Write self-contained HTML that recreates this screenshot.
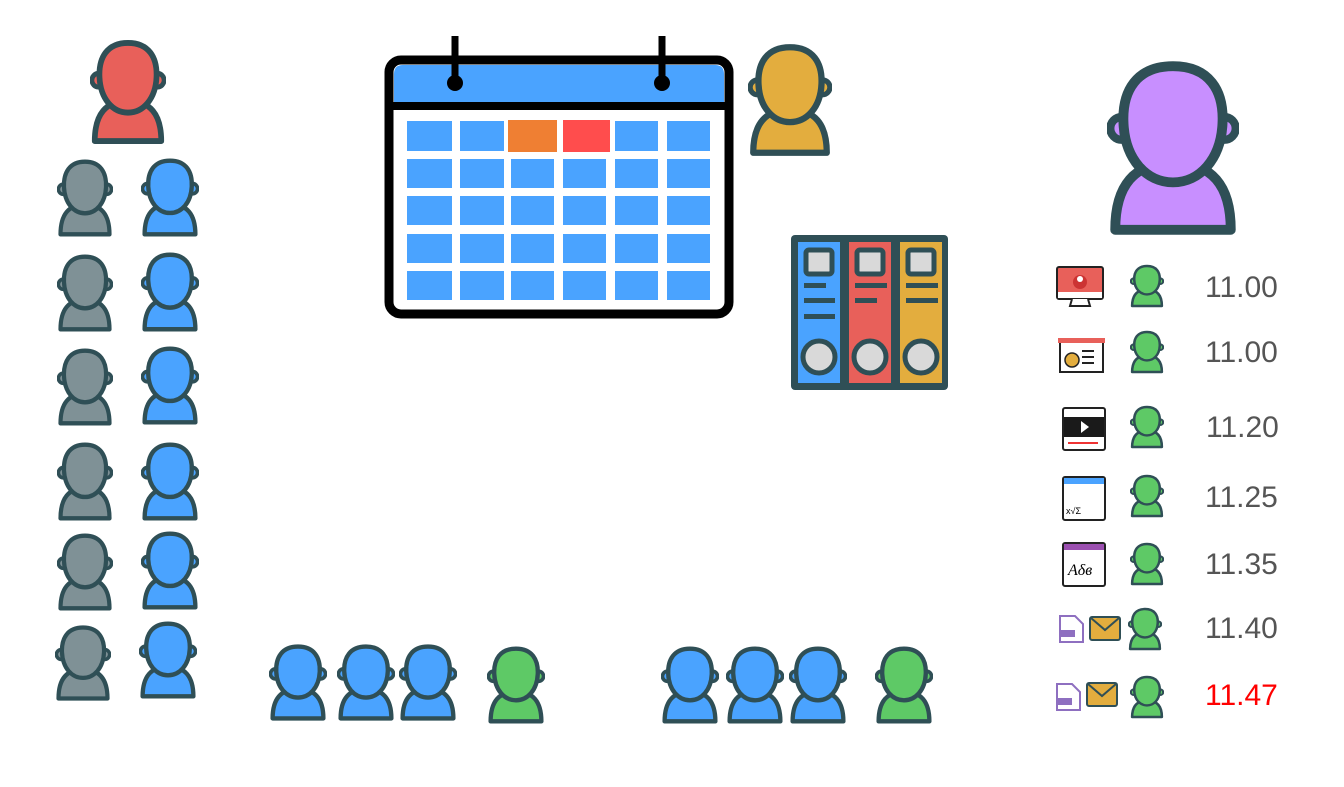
<!DOCTYPE html>
<html><head><meta charset="utf-8"><style>
html,body{margin:0;padding:0;background:#fff;width:1344px;height:787px;overflow:hidden}
.t{position:absolute;font-family:"Liberation Sans",sans-serif;font-size:30px;color:#555;left:1205px}
</style></head><body>
<svg width="1344" height="787" style="position:absolute;left:0;top:0">
<defs>
<symbol id="p" viewBox="0 0 80 110" preserveAspectRatio="none">
<path d="M5 105 Q5 64 40 64 Q75 64 75 105 Z" stroke="#2f4f56" stroke-width="6" stroke-linejoin="round"/>
<circle cx="9" cy="43" r="7" stroke="#2f4f56" stroke-width="5"/>
<circle cx="71" cy="43" r="7" stroke="#2f4f56" stroke-width="5"/>
<path d="M40 5 C62 5 71 20 70 40 C69 62 56 76 40 76 C24 76 11 62 10 40 C9 20 18 5 40 5 Z" stroke="#2f4f56" stroke-width="6"/>
</symbol>
</defs>
<use href="#p" x="90" y="38" width="76" height="108" fill="#e8605a"/>
<g fill="#7f9196">
<use href="#p" x="57" y="158" width="56" height="80"/>
<use href="#p" x="57" y="253" width="56" height="80"/>
<use href="#p" x="57" y="347" width="56" height="80"/>
<use href="#p" x="57" y="441" width="56" height="81"/>
<use href="#p" x="57" y="532" width="56" height="80"/>
<use href="#p" x="55" y="624" width="56" height="78"/>
</g>
<g fill="#4aa3ff">
<use href="#p" x="141" y="157" width="58" height="81"/>
<use href="#p" x="141" y="251" width="58" height="82"/>
<use href="#p" x="141" y="345" width="58" height="81"/>
<use href="#p" x="141" y="441" width="58" height="81"/>
<use href="#p" x="141" y="530" width="58" height="81"/>
<use href="#p" x="139" y="620" width="58" height="80"/>
<use href="#p" x="269" y="643" width="58" height="79"/>
<use href="#p" x="337" y="643" width="58" height="79"/>
<use href="#p" x="399" y="643" width="58" height="79"/>
<use href="#p" x="661" y="645" width="58" height="80"/>
<use href="#p" x="726" y="645" width="58" height="80"/>
<use href="#p" x="789" y="645" width="58" height="80"/>
</g>
<g fill="#5ec966">
<use href="#p" x="487" y="645" width="58" height="80"/>
<use href="#p" x="875" y="645" width="58" height="80"/>
<use href="#p" x="1130" y="264" width="34" height="44"/>
<use href="#p" x="1130" y="330" width="34" height="44"/>
<use href="#p" x="1130" y="405" width="34" height="44"/>
<use href="#p" x="1130" y="474" width="34" height="44"/>
<use href="#p" x="1130" y="542" width="34" height="44"/>
<use href="#p" x="1128" y="607" width="34" height="44"/>
<use href="#p" x="1130" y="675" width="34" height="44"/>
</g>
<use href="#p" x="748" y="42" width="84" height="116" fill="#e3ad3e"/>
<use href="#p" x="1107" y="58" width="132" height="180" fill="#c88fff"/>

<rect x="389" y="60" width="340" height="254" rx="12" fill="#fff" stroke="#000" stroke-width="9"/>
<path d="M394 104 V74 Q394 65 403 65 H715 Q724 65 724 74 V104 Z" fill="#4aa3ff"/>
<line x1="389" y1="106" x2="729" y2="106" stroke="#000" stroke-width="8"/>
<line x1="455" y1="36" x2="455" y2="82" stroke="#000" stroke-width="7"/>
<line x1="662" y1="36" x2="662" y2="82" stroke="#000" stroke-width="7"/>
<circle cx="455" cy="83" r="8"/><circle cx="662" cy="83" r="8"/>
<g fill="#4aa3ff">
<rect x="407" y="121" width="45" height="30"/><rect x="460" y="121" width="44" height="30"/>
<rect x="615" y="121" width="43" height="30"/><rect x="667" y="121" width="43" height="30"/>
</g>
<rect x="508" y="120" width="49" height="32" fill="#ef7f33"/>
<rect x="563" y="120" width="47" height="32" fill="#ff4d4d"/>
<g fill="#4aa3ff">
<rect x="407" y="159" width="45" height="29"/><rect x="460" y="159" width="44" height="29"/><rect x="511" y="159" width="43" height="29"/><rect x="563" y="159" width="43" height="29"/><rect x="615" y="159" width="43" height="29"/><rect x="667" y="159" width="43" height="29"/>
<rect x="407" y="196" width="45" height="29"/><rect x="460" y="196" width="44" height="29"/><rect x="511" y="196" width="43" height="29"/><rect x="563" y="196" width="43" height="29"/><rect x="615" y="196" width="43" height="29"/><rect x="667" y="196" width="43" height="29"/>
<rect x="407" y="234" width="45" height="29"/><rect x="460" y="234" width="44" height="29"/><rect x="511" y="234" width="43" height="29"/><rect x="563" y="234" width="43" height="29"/><rect x="615" y="234" width="43" height="29"/><rect x="667" y="234" width="43" height="29"/>
<rect x="407" y="271" width="45" height="29"/><rect x="460" y="271" width="44" height="29"/><rect x="511" y="271" width="43" height="29"/><rect x="563" y="271" width="43" height="29"/><rect x="615" y="271" width="43" height="29"/><rect x="667" y="271" width="43" height="29"/>
</g>

<rect x="791" y="235" width="157" height="155" rx="4" fill="#2f4f56"/>
<rect x="798" y="242" width="42" height="141" fill="#4aa3ff"/>
<rect x="849" y="242" width="42" height="141" fill="#e8605a"/>
<rect x="900" y="242" width="42" height="141" fill="#e3ad3e"/>
<g fill="#d9d9d9" stroke="#2f4f56" stroke-width="5">
<rect x="806" y="250" width="26" height="24" rx="3"/><rect x="857" y="250" width="26" height="24" rx="3"/><rect x="908" y="250" width="26" height="24" rx="3"/>
<circle cx="819" cy="357" r="16"/><circle cx="870" cy="357" r="16"/><circle cx="921" cy="357" r="16"/>
</g>
<g fill="#2f4f56">
<rect x="804" y="283" width="22" height="5"/><rect x="804" y="298" width="31" height="5"/><rect x="804" y="314" width="31" height="5"/>
<rect x="855" y="283" width="32" height="5"/><rect x="855" y="298" width="22" height="5"/>
<rect x="906" y="283" width="32" height="5"/><rect x="906" y="298" width="32" height="5"/>
</g>

<rect x="1057" y="267" width="46" height="32" rx="2" fill="#e8605a" stroke="#222" stroke-width="2"/>
<rect x="1058" y="292" width="44" height="6" fill="#fff"/>
<path d="M1072 299 L1070 306 H1090 L1088 299" fill="#fff" stroke="#222" stroke-width="2"/>
<circle cx="1080" cy="282" r="7" fill="#c33"/><circle cx="1080" cy="279" r="3" fill="#fff"/>
<rect x="1060" y="340" width="43" height="32" fill="#fff" stroke="#222" stroke-width="2"/>
<rect x="1058" y="338" width="47" height="5" fill="#e8605a"/>
<circle cx="1072" cy="360" r="7" fill="#e3ad3e" stroke="#222" stroke-width="1.5"/>
<path d="M1082 351h12M1082 357h12M1082 363h12" stroke="#222" stroke-width="2"/>
<rect x="1063" y="408" width="42" height="42" rx="2" fill="#fff" stroke="#222" stroke-width="2"/>
<rect x="1064" y="417" width="40" height="20" fill="#1a1a1a"/>
<path d="M1081 421 L1089 427 L1081 433 Z" fill="#fff"/>
<line x1="1068" y1="443" x2="1098" y2="443" stroke="#e33" stroke-width="2"/>
<rect x="1063" y="477" width="42" height="43" rx="2" fill="#fff" stroke="#222" stroke-width="2"/>
<rect x="1064" y="478" width="40" height="6" fill="#4aa3ff"/>
<text x="1066" y="514" font-family="Liberation Sans,sans-serif" font-size="9">x√Σ</text>
<rect x="1063" y="543" width="42" height="43" rx="2" fill="#fff" stroke="#222" stroke-width="2"/>
<rect x="1064" y="544" width="40" height="6" fill="#9b4fb0"/>
<text x="1068" y="575" font-family="Liberation Serif,serif" font-style="italic" font-size="16">Aδв</text>
<path d="M1060 616 H1075 L1083 624 V642 H1060 Z" fill="#fff" stroke="#8e6fc0" stroke-width="2"/>
<rect x="1059" y="630" width="16" height="7" fill="#8e6fc0"/>
<rect x="1090" y="617" width="30" height="23" rx="2" fill="#e3ad3e" stroke="#2f4f56" stroke-width="2"/>
<path d="M1091 618 L1105 630 L1119 618" fill="none" stroke="#2f4f56" stroke-width="2"/>
<path d="M1057 684 H1072 L1080 692 V710 H1057 Z" fill="#fff" stroke="#8e6fc0" stroke-width="2"/>
<rect x="1056" y="698" width="16" height="7" fill="#8e6fc0"/>
<rect x="1087" y="683" width="30" height="23" rx="2" fill="#e3ad3e" stroke="#2f4f56" stroke-width="2"/>
<path d="M1088 684 L1102 696 L1116 684" fill="none" stroke="#2f4f56" stroke-width="2"/>
</svg>
<div class="t" style="top:271px">11.00</div>
<div class="t" style="top:336px">11.00</div>
<div class="t" style="top:411px;left:1206px">11.20</div>
<div class="t" style="top:481px">11.25</div>
<div class="t" style="top:548px">11.35</div>
<div class="t" style="top:612px">11.40</div>
<div class="t" style="top:679px;color:#f00">11.47</div>
</body></html>
